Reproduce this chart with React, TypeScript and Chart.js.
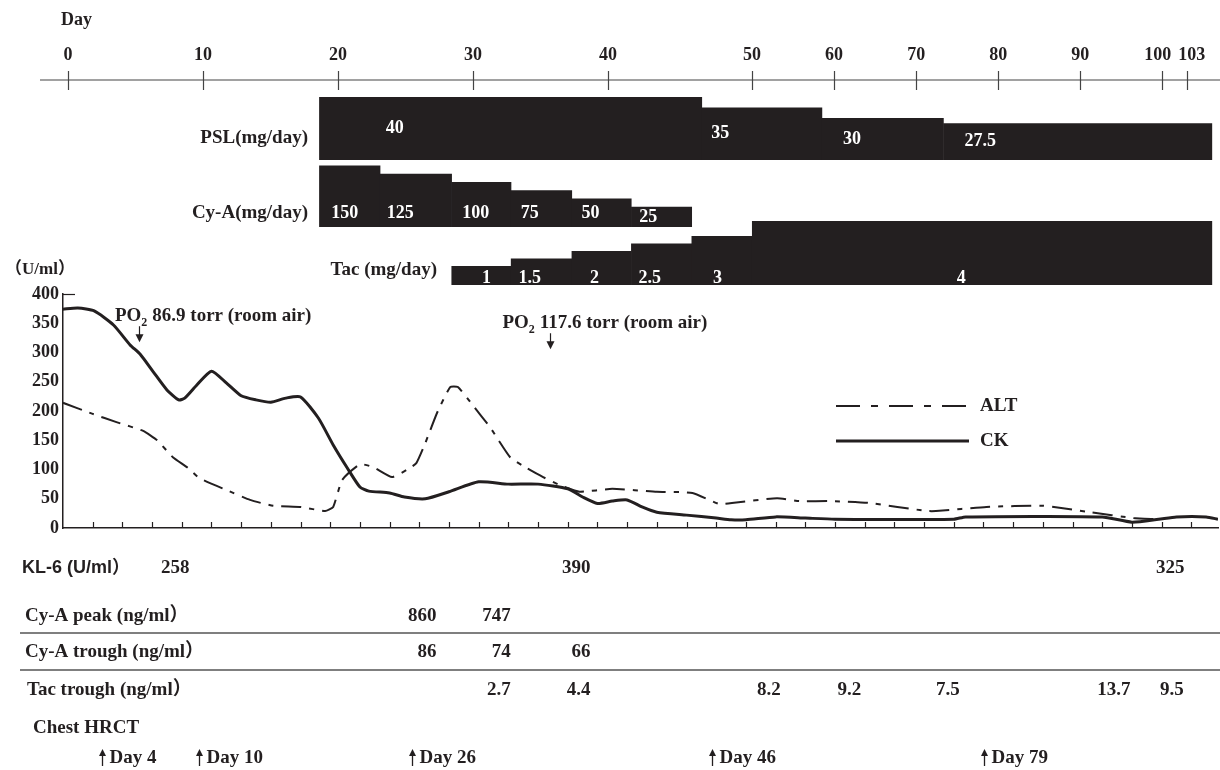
import React, { useEffect, useRef } from 'react';
import { Chart, registerables, LinearScale } from 'chart.js';

// ---------------- data ----------------
const DAY_TICKS = [0, 10, 20, 30, 40, 50, 60, 70, 80, 90, 100, 103];

// Drug regimens (days on the top axis) and doses
const PSL_START = [18.6, 46.5, 58.5, 73.3];
const PSL_END = [46.5, 58.5, 73.3, 106];
const PSL_DOSE = [40, 35, 30, 27.5];
const PSL_LABEL_DAY = [24.2, 47.8, 62.2, 77.8];

const CYA_START = [18.6, 23.1, 28.4, 32.8, 37.3, 41.6];
const CYA_END = [23.1, 28.4, 32.8, 37.3, 41.6, 45.8];
const CYA_DOSE = [150, 125, 100, 75, 50, 25];
const CYA_LABEL_DAY = [20.5, 24.6, 30.2, 34.2, 38.7, 42.8];

const TAC_START = [28.4, 32.8, 37.3, 41.6, 45.8, 50];
const TAC_END = [32.8, 37.3, 41.6, 45.8, 50, 106];
const TAC_DOSE = [1, 1.5, 2, 2.5, 3, 4];
const TAC_LABEL_DAY = [31.0, 34.2, 39.0, 42.9, 47.6, 75.5];

// Lower chart (U/ml), x = sample position on the lower axis
const CK_X = [0, 0.5, 1.05, 1.7, 2.26, 2.6, 3.04, 3.5, 3.9, 4.1, 4.5, 5.0, 5.5, 6.0, 6.5, 7.0, 7.5, 8.0, 8.6, 9.1, 9.57, 10.0, 10.3, 11.0, 11.5, 12.2, 13.0, 14.0, 15.0, 16.0, 17.0, 17.5, 18.0, 18.5, 19.0, 19.5, 20.0, 21.0, 22.0, 22.5, 23.0, 24.0, 25.0, 26.0, 30.0, 30.4, 35.0, 36.0, 36.9, 37.5, 38.5, 38.9];
const CK_Y = [374, 376, 371, 347, 313, 297, 267, 236, 219, 222, 244, 268, 248, 226, 219, 215, 222, 224, 188, 142, 103, 70, 63, 60, 53, 50, 62, 79, 75, 75, 67, 53, 42, 46, 48, 36, 27, 22, 17, 14, 14, 19, 17, 15, 15, 19, 19, 10, 15, 19, 19, 15];

const ALT_X = [0, 1.0, 1.8, 2.7, 3.17, 3.7, 4.2, 4.6, 5.5, 6.3, 7.08, 8.0, 8.83, 9.1, 9.4, 10.0, 10.45, 11.08, 11.6, 11.9, 12.2, 12.6, 13.04, 13.3, 13.8, 14.4, 15.06, 15.6, 16.17, 16.75, 17.4, 18.5, 20.0, 21.2, 22.1, 22.6, 24.05, 24.8, 25.9, 27.1, 29.1, 29.4, 31.1, 33.0, 34.6, 36.05, 36.8];
const ALT_Y = [214, 195, 181, 166, 150, 121, 103, 85, 65, 48, 38, 36, 29, 36, 82, 109, 104, 87, 100, 111, 145, 197, 241, 241, 210, 171, 121, 103, 87, 73, 62, 67, 62, 60, 41, 43, 51, 46, 46, 43, 29, 29, 36, 38, 27, 17, 15];

const Y_MIN = 0;
const Y_MAX = 400;
const Y_STEP = 50;

// PO2 notes (lower-axis positions)
const PO2_TEXT = ['86.9 torr (room air)', '117.6 torr (room air)'];
const PO2_TEXT_X = [1.75, 14.8];
const PO2_ARROW_X = [2.56, 16.4];
const PO2_Y = [362, 350];

// Table rows (values at days on the top axis, right-aligned)
const KL6_DAY = [9.0, 38.7, 102.7];
const KL6_VAL = ['258', '390', '325'];
const CYA_PEAK_DAY = [27.3, 32.8];
const CYA_PEAK_VAL = ['860', '747'];
const CYA_TROUGH_DAY = [27.3, 32.8, 38.7];
const CYA_TROUGH_VAL = ['86', '74', '66'];
const TAC_TROUGH_DAY = [32.8, 38.7, 53.5, 63.3, 75.3, 96.1, 102.6];
const TAC_TROUGH_VAL = ['2.7', '4.4', '8.2', '9.2', '7.5', '13.7', '9.5'];
const HRCT_LABEL = [4, 10, 26, 46, 79];
const HRCT_POS = [2.5, 9.7, 25.5, 47.2, 78.3];

// ---------------- scale: piecewise day axis ----------------
const KNOT_DAYS = [0, 40, 50, 103];
const KNOT_FRACS = [0.00433, 0.4719, 0.5965, 0.9732];

class DayScale extends LinearScale {
  static id = 'dayscale';
  static defaults = {};
  getPixelForValue(value: number) {
    const d = KNOT_DAYS;
    const f = KNOT_FRACS;
    let i = 0;
    while (i < d.length - 2 && value > d[i + 1]) i++;
    const frac = f[i] + ((value - d[i]) * (f[i + 1] - f[i])) / (d[i + 1] - d[i]);
    return this.left + frac * (this.right - this.left);
  }
}

Chart.register(...registerables, DayScale);

const INK = '#231f20';
const SERIF = '"Liberation Serif", "Times New Roman", "Noto Sans CJK JP", serif';
const SANS = '"Liberation Sans", Arial, "Noto Sans CJK JP", sans-serif';
const fnt = (s: number, fam = SERIF) => `bold ${s}px ${fam}`;

const overlay = {
  id: 'overlay',
  afterDraw(chart: any) {
    const ctx: CanvasRenderingContext2D = chart.ctx;
    const ds = chart.scales.day;
    const xs = chart.scales.x;
    const ys = chart.scales.y;
    const { left, top, bottom } = chart.chartArea;
    const W = chart.width;

    const line = (x1: number, y1: number, x2: number, y2: number) => {
      ctx.beginPath();
      ctx.moveTo(x1, y1);
      ctx.lineTo(x2, y2);
      ctx.stroke();
    };
    const text = (t: string, x: number, y: number, font: string, align: CanvasTextAlign = 'left', color = INK) => {
      ctx.font = font;
      ctx.textAlign = align;
      ctx.fillStyle = color;
      ctx.fillText(t, x, y);
    };

    ctx.save();
    ctx.textBaseline = 'middle';

    // ---- top day axis ----
    text('Day', 61, 20, fnt(18));
    ctx.strokeStyle = '#444';
    ctx.lineWidth = 1.2;
    line(40, 80, W, 80);
    ctx.font = fnt(18);
    const centers = DAY_TICKS.map((d) => ds.getPixelForValue(d));
    const widths = DAY_TICKS.map((d) => ctx.measureText(String(d)).width);
    const labelX = centers.slice();
    for (let i = 1; i < labelX.length; i++) {
      const gap = labelX[i] - widths[i] / 2 - (labelX[i - 1] + widths[i - 1] / 2);
      if (gap < 7) {
        const push = (7 - gap) / 2;
        labelX[i - 1] -= push;
        labelX[i] += push;
      }
    }
    DAY_TICKS.forEach((d, i) => {
      const x = Math.round(centers[i]) + 0.5;
      line(x, 71, x, 90);
      text(String(d), labelX[i], 55, fnt(18), 'center');
    });

    // ---- drug rows ----
    const rows = [
      { name: 'PSL(mg/day)', nameX: 308, nameY: 138, start: PSL_START, end: PSL_END, dose: PSL_DOSE, lab: PSL_LABEL_DAY, base: 160, topOf: (v: number) => 181 - 2.1 * v, labY: (t: number, b: number) => (t + b) / 2 },
      { name: 'Cy-A(mg/day)', nameX: 308, nameY: 213, start: CYA_START, end: CYA_END, dose: CYA_DOSE, lab: CYA_LABEL_DAY, base: 227, topOf: (v: number) => 215 - 0.33 * v, labY: (t: number, b: number) => Math.max(b - 14, t + 11) },
      { name: 'Tac (mg/day)', nameX: 437, nameY: 270, start: TAC_START, end: TAC_END, dose: TAC_DOSE, lab: TAC_LABEL_DAY, base: 285, topOf: (v: number) => 281 - 15 * v, labY: (t: number, b: number) => b - 7 },
    ];
    rows.forEach((r) => {
      r.dose.forEach((v, i) => {
        const x1 = ds.getPixelForValue(r.start[i]);
        const x2 = Math.min(ds.getPixelForValue(r.end[i]), W);
        const t = r.topOf(v);
        ctx.fillStyle = INK;
        ctx.fillRect(x1, t, x2 - x1 + 0.5, r.base - t);
      });
      r.dose.forEach((v, i) => {
        const t = r.topOf(v);
        text(String(v), ds.getPixelForValue(r.lab[i]), r.labY(t, r.base), fnt(18), 'center', '#ffffff');
      });
      text(r.name, r.nameX, r.nameY, fnt(19), 'right');
    });

    // ---- lower chart extras ----
    text('（U/ml）', 5, 270, fnt(17));
    ctx.strokeStyle = INK;
    ctx.lineWidth = 1.2;
    xs.ticks.forEach((tk: any) => {
      if (tk.value <= 0) return;
      const x = Math.round(xs.getPixelForValue(tk.value)) + 0.5;
      line(x, bottom, x, bottom - 6);
    });
    line(left, top + 0.5, left + 12, top + 0.5);

    // PO2 notes
    PO2_TEXT.forEach((t, i) => {
      const tx = xs.getPixelForValue(PO2_TEXT_X[i]);
      const ty = ys.getPixelForValue(PO2_Y[i]);
      ctx.font = fnt(19);
      ctx.textAlign = 'left';
      ctx.fillStyle = INK;
      ctx.fillText('PO', tx, ty);
      const w1 = ctx.measureText('PO').width;
      ctx.font = fnt(12);
      ctx.fillText('2', tx + w1, ty + 7);
      const w2 = ctx.measureText('2').width;
      ctx.font = fnt(19);
      ctx.fillText(t, tx + w1 + w2 + 5, ty);
      const ax = Math.round(xs.getPixelForValue(PO2_ARROW_X[i])) + 0.5;
      ctx.lineWidth = 1.2;
      line(ax, ty + 10, ax, ty + 20);
      ctx.beginPath();
      ctx.moveTo(ax - 4, ty + 18);
      ctx.lineTo(ax + 4, ty + 18);
      ctx.lineTo(ax, ty + 26);
      ctx.closePath();
      ctx.fill();
    });

    // legend
    chart.data.datasets.forEach((dset: any, i: number) => {
      const y = [406, 441][i];
      ctx.save();
      ctx.strokeStyle = dset.borderColor;
      ctx.lineWidth = dset.borderWidth;
      ctx.setLineDash(dset.legendDash || []);
      line(836, y, 969, y);
      ctx.restore();
      text(dset.label, 980, y, fnt(19));
    });

    // ---- tables ----
    ctx.strokeStyle = '#555';
    ctx.lineWidth = 1.5;
    line(20, 633, W, 633);
    line(20, 670, W, 670);

    text('KL-6 (U/ml）', 22, 568, fnt(18, SANS));
    KL6_VAL.forEach((v, i) => text(v, ds.getPixelForValue(KL6_DAY[i]), 568, fnt(19), 'right'));

    text('Cy-A peak (ng/ml）', 25, 616, fnt(19));
    CYA_PEAK_VAL.forEach((v, i) => text(v, ds.getPixelForValue(CYA_PEAK_DAY[i]), 616, fnt(19), 'right'));

    text('Cy-A trough (ng/ml）', 25, 652, fnt(19));
    CYA_TROUGH_VAL.forEach((v, i) => text(v, ds.getPixelForValue(CYA_TROUGH_DAY[i]), 652, fnt(19), 'right'));

    text('Tac trough (ng/ml）', 27, 690, fnt(19));
    TAC_TROUGH_VAL.forEach((v, i) => text(v, ds.getPixelForValue(TAC_TROUGH_DAY[i]), 690, fnt(19), 'right'));

    text('Chest HRCT', 33, 728, fnt(19));
    ctx.strokeStyle = INK;
    ctx.lineWidth = 1.3;
    HRCT_LABEL.forEach((d, i) => {
      const x = Math.round(ds.getPixelForValue(HRCT_POS[i])) + 0.5;
      line(x, 766, x, 753);
      ctx.beginPath();
      ctx.moveTo(x - 3.5, 756);
      ctx.lineTo(x + 3.5, 756);
      ctx.lineTo(x, 749);
      ctx.closePath();
      ctx.fillStyle = INK;
      ctx.fill();
      text('Day ' + d, x + 7, 758, fnt(19));
    });

    ctx.restore();
  },
};

export default function App() {
  const ref = useRef<HTMLCanvasElement>(null);
  useEffect(() => {
    if (!ref.current) return;
    const chart = new Chart(ref.current, {
      type: 'line',
      data: {
        datasets: [
          {
            label: 'ALT',
            data: ALT_X.map((x, i) => ({ x, y: ALT_Y[i] })),
            borderColor: INK,
            borderWidth: 2,
            borderDash: [20, 8, 5, 8],
            legendDash: [24, 11, 7, 11],
            pointRadius: 0,
            tension: 0.15,
          } as any,
          {
            label: 'CK',
            data: CK_X.map((x, i) => ({ x, y: CK_Y[i] })),
            borderColor: INK,
            borderWidth: 3,
            pointRadius: 0,
            tension: 0.2,
          },
        ],
      },
      options: {
        responsive: false,
        animation: false,
        layout: { padding: { left: 0, top: 294, right: 2, bottom: 242 } },
        plugins: { legend: { display: false }, tooltip: { enabled: false } },
        scales: {
          x: {
            type: 'linear',
            min: 0,
            max: 38.9,
            ticks: { display: false, stepSize: 1, includeBounds: false },
            grid: { display: false, drawTicks: false },
            border: { display: true, color: INK, width: 1.5 },
            afterFit: (s: any) => { s.height = 0; },
          },
          y: {
            min: Y_MIN,
            max: Y_MAX,
            ticks: { stepSize: Y_STEP, color: INK, padding: 4, font: { family: SERIF, size: 18, weight: 'bold' } },
            grid: { display: false, drawTicks: false },
            border: { display: true, color: INK, width: 1.5 },
            afterFit: (s: any) => { s.width = 63; },
          },
          day: {
            type: 'dayscale',
            position: 'top',
            display: false,
            min: 0,
            max: 103,
          } as any,
        },
      },
      plugins: [overlay],
    });
    return () => chart.destroy();
  }, []);
  return (
    <div style={{ position: 'absolute', left: 0, top: 0, width: 1220, height: 770, background: '#fff' }}>
      <canvas ref={ref} width={1220} height={770} style={{ display: 'block', width: 1220, height: 770 }} />
    </div>
  );
}
